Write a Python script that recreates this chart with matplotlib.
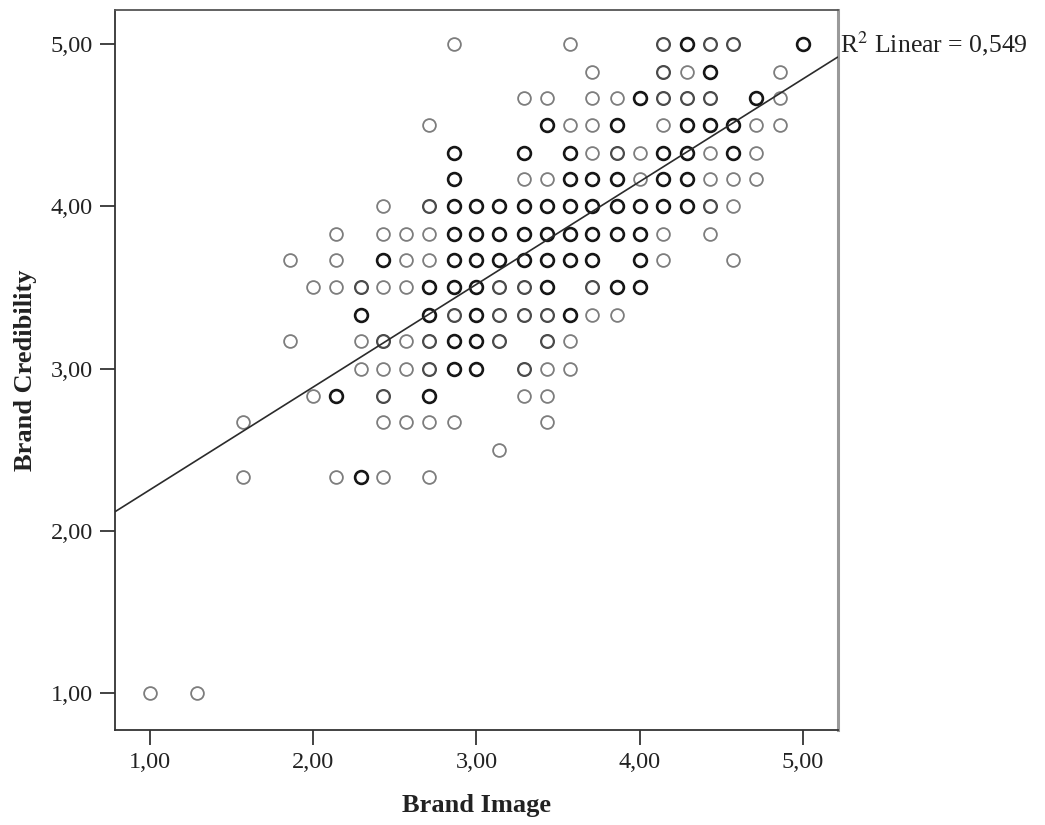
import matplotlib
matplotlib.use("Agg")
import matplotlib.pyplot as plt
import numpy as np

# Scale scores: Brand Image (mean of 7 items) vs Brand Credibility (mean of 6 items).
# Each row lists the Brand Image values observed at one Brand Credibility level,
# with an overlap count (1 = single case, 2 = a few cases, 3 = many cases).
cred_levels = [5.00, 4.83, 4.67, 4.50, 4.33, 4.17, 4.00, 3.83, 3.67, 3.50,
               3.33, 3.17, 3.00, 2.83, 2.67, 2.50, 2.33, 1.00]

image_by_level = [
    [2.86, 3.57, 4.14, 4.29, 4.43, 4.57, 5.00],
    [3.71, 4.14, 4.29, 4.43, 4.86],
    [3.29, 3.43, 3.71, 3.86, 4.00, 4.14, 4.29, 4.43, 4.71, 4.86],
    [2.71, 3.43, 3.57, 3.71, 3.86, 4.14, 4.29, 4.43, 4.57, 4.71, 4.86],
    [2.86, 3.29, 3.57, 3.71, 3.86, 4.00, 4.14, 4.29, 4.43, 4.57, 4.71],
    [2.86, 3.29, 3.43, 3.57, 3.71, 3.86, 4.00, 4.14, 4.29, 4.43, 4.57, 4.71],
    [2.43, 2.71, 2.86, 3.00, 3.14, 3.29, 3.43, 3.57, 3.71, 3.86, 4.00, 4.14, 4.29, 4.43, 4.57],
    [2.14, 2.43, 2.57, 2.71, 2.86, 3.00, 3.14, 3.29, 3.43, 3.57, 3.71, 3.86, 4.00, 4.14, 4.43],
    [1.86, 2.14, 2.43, 2.57, 2.71, 2.86, 3.00, 3.14, 3.29, 3.43, 3.57, 3.71, 4.00, 4.14, 4.57],
    [2.00, 2.14, 2.29, 2.43, 2.57, 2.71, 2.86, 3.00, 3.14, 3.29, 3.43, 3.71, 3.86, 4.00],
    [2.29, 2.71, 2.86, 3.00, 3.14, 3.29, 3.43, 3.57, 3.71, 3.86],
    [1.86, 2.29, 2.43, 2.57, 2.71, 2.86, 3.00, 3.14, 3.43, 3.57],
    [2.29, 2.43, 2.57, 2.71, 2.86, 3.00, 3.29, 3.43, 3.57],
    [2.00, 2.14, 2.43, 2.71, 3.29, 3.43],
    [1.57, 2.43, 2.57, 2.71, 2.86, 3.43],
    [3.14],
    [1.57, 2.14, 2.29, 2.43, 2.71],
    [1.00, 1.29],
]

overlap_by_level = [
    [1, 1, 2, 3, 2, 2, 3],
    [1, 2, 1, 3, 1],
    [1, 1, 1, 1, 3, 2, 2, 2, 3, 1],
    [1, 3, 1, 1, 3, 1, 3, 3, 3, 1, 1],
    [3, 3, 3, 1, 2, 1, 3, 3, 1, 3, 1],
    [3, 1, 1, 3, 3, 3, 1, 3, 3, 1, 1, 1],
    [1, 2, 3, 3, 3, 3, 3, 3, 3, 3, 3, 3, 3, 2, 1],
    [1, 1, 1, 1, 3, 3, 3, 3, 3, 3, 3, 3, 3, 1, 1],
    [1, 1, 3, 1, 1, 3, 3, 3, 3, 3, 3, 3, 3, 1, 1],
    [1, 1, 2, 1, 1, 3, 3, 3, 2, 2, 3, 2, 3, 3],
    [3, 3, 2, 3, 2, 2, 2, 3, 1, 1],
    [1, 1, 2, 1, 2, 3, 3, 2, 2, 1],
    [1, 1, 1, 2, 3, 3, 2, 1, 1],
    [1, 3, 2, 3, 1, 1],
    [1, 1, 1, 1, 1, 1],
    [1],
    [1, 1, 3, 1, 1],
    [1, 1],
]

# Linear fit reported on the chart
fit_intercept = 1.62
fit_slope = 0.633
r_squared_label = "0,549"

x_ticks = [1.0, 2.0, 3.0, 4.0, 5.0]
x_tick_labels = ["1,00", "2,00", "3,00", "4,00", "5,00"]
y_ticks = [1.0, 2.0, 3.0, 4.0, 5.0]
y_tick_labels = ["1,00", "2,00", "3,00", "4,00", "5,00"]

plt.rcParams["font.family"] = ["Liberation Serif", "DejaVu Serif"]

fig = plt.figure(figsize=(10.45, 8.25), dpi=100)
ax = fig.add_axes([115 / 1045, 1 - 730 / 825, 723 / 1045, 720 / 825])

edge_shades = {1: "#7d7d7d", 2: "#4a4a4a", 3: "#161616"}

for level, xs, counts in zip(cred_levels, image_by_level, overlap_by_level):
    for x, c in zip(xs, counts):
        ax.plot([x], [level], linestyle="none", marker="o", markersize=9.2,
                markerfacecolor="none", markeredgecolor=edge_shades[c],
                markeredgewidth=1.3 + 0.3 * (c - 1), zorder=3)

x_min, x_max = 0.7856, 5.2144
y_min, y_max = 0.772, 5.2096
ax.set_xlim(x_min, x_max)
ax.set_ylim(y_min, y_max)

line_x = np.array([x_min, x_max])
ax.plot(line_x, fit_intercept + fit_slope * line_x, color="#2b2b2b",
        linewidth=1.2, zorder=4, solid_capstyle="butt")

ax.set_xticks(x_ticks)
ax.set_xticklabels(x_tick_labels)
ax.set_yticks(y_ticks)
ax.set_yticklabels(y_tick_labels)
ax.tick_params(axis="both", direction="out", length=11, width=1.2,
               color="#222222", labelsize=17.5, labelcolor="#222222", pad=5)

for side in ["left", "right", "top", "bottom"]:
    ax.spines[side].set_linewidth(1.3)
    ax.spines[side].set_color("#333333")
ax.spines["right"].set_color("#9a9a9a")
ax.spines["right"].set_linewidth(2.2)
ax.spines["top"].set_color("#555555")

ax.set_xlabel("Brand Image", fontsize=19, fontweight="bold", labelpad=15,
              color="#222222")
ax.set_ylabel("Brand Credibility", fontsize=19, fontweight="bold", labelpad=10,
              color="#222222")

fig.text(840 / 1045, 1 - 44 / 825, "R$^2$ Linear = " + r_squared_label,
         fontsize=18.5, va="center", ha="left", color="#222222",
         math_fontfamily="stix")

fig.savefig("out.png", dpi=100, facecolor="white")
